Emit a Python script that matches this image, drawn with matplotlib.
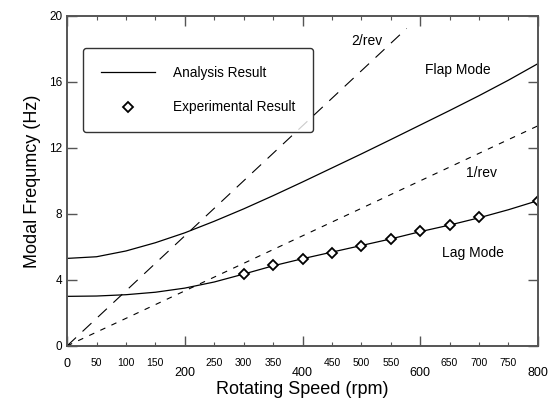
import numpy as np
import matplotlib
matplotlib.use('Agg')
import matplotlib.pyplot as plt

plt.rcParams['font.family'] = ['Liberation Sans', 'DejaVu Sans']

# analysis curves
rpm_an = [0, 50, 100, 150, 200, 250, 300, 350, 400, 450, 500, 550, 600, 650, 700, 750, 800]
flap_an = [5.3, 5.4, 5.75, 6.25, 6.85, 7.55, 8.3, 9.1, 9.93, 10.78, 11.63, 12.5, 13.38, 14.26, 15.16, 16.1, 17.1]
lag_an = [3.0, 3.02, 3.1, 3.25, 3.5, 3.87, 4.35, 4.85, 5.28, 5.68, 6.08, 6.48, 6.92, 7.32, 7.76, 8.25, 8.8]

# experiment
rpm_exp = [300, 350, 400, 450, 500, 550, 600, 650, 700, 800]
lag_exp = [4.38, 4.88, 5.27, 5.65, 6.08, 6.46, 6.93, 7.3, 7.78, 8.8]

rev_x = [0, 800]
rev1 = [0, 800 / 60.0]
rev2_x = [0, 577]
rev2 = [0, 2 * 577 / 60.0]

fig = plt.figure(figsize=(5.5, 4.05), dpi=100)
ax = fig.add_axes([0.122, 0.146, 0.856, 0.815])

ax.plot(rpm_an, flap_an, color='black', lw=0.9, label='Analysis Result')
ax.plot(rpm_an, lag_an, color='black', lw=0.9)
ax.plot(rpm_exp, lag_exp, ls='none', marker='D', ms=5.5, mfc='white', mec='black',
        mew=1.3, label='Experimental Result')
ax.plot(rev2_x, rev2, color='black', lw=0.8, dashes=(11, 8))
ax.plot(rev_x, rev1, color='black', lw=0.8, dashes=(5, 6))

ax.text(510, 18.5, '2/rev', fontsize=10, ha='center', va='center')
ax.text(664, 16.7, 'Flap Mode', fontsize=10, ha='center', va='center')
ax.text(705, 10.5, '1/rev', fontsize=10, ha='center', va='center')
ax.text(690, 5.6, 'Lag Mode', fontsize=10, ha='center', va='center')

ax.set_xlim(0, 800)
ax.set_ylim(0, 20)

ax.set_xticks([0, 200, 400, 600, 800])
ax.set_xticks([50, 100, 150, 250, 300, 350, 450, 500, 550, 650, 700, 750], minor=True)
ax.set_xticklabels(['0', '200', '400', '600', '800'], fontsize=9)
ax.set_xticklabels(['50', '100', '150', '250', '300', '350', '450', '500', '550',
                    '650', '700', '750'], minor=True, fontsize=7.5)
ax.set_yticks([0, 4, 8, 12, 16, 20])
ax.set_yticklabels(['0', '4', '8', '12', '16', '20'], fontsize=8.5)

ax.tick_params(which='both', direction='in', top=True, right=True, color='#555555')
ax.tick_params(which='major', length=7, width=1)
ax.tick_params(which='minor', length=3, width=0.8)
ax.tick_params(axis='x', which='minor', pad=9)
for i, t in enumerate(ax.xaxis.get_major_ticks()):
    t.set_pad(9 if i == 0 else 15)

for s in ax.spines.values():
    s.set_color('#555555')
    s.set_linewidth(1.4)

ax.set_xlabel('Rotating Speed (rpm)', fontsize=13, labelpad=2)
ax.set_ylabel('Modal Frequmcy (Hz)', fontsize=13, labelpad=6)

leg = ax.legend(loc='upper left', bbox_to_anchor=(0.02, 0.922), fontsize=9.8,
                frameon=True, fancybox=True, edgecolor='black', borderpad=1.3,
                labelspacing=1.5, handlelength=4.0, handletextpad=1.3)
leg.get_frame().set_linewidth(1.0)

plt.savefig('out.png', dpi=100)
